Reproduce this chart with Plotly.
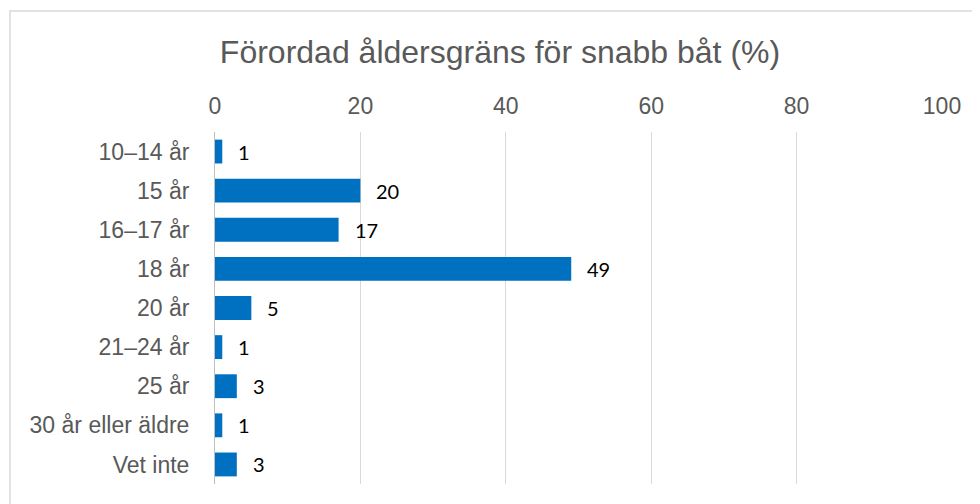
import plotly.graph_objects as go

categories = ["10–14 år", "15 år", "16–17 år", "18 år", "20 år", "21–24 år", "25 år", "30 år eller äldre", "Vet inte"]
values = [1, 20, 17, 49, 5, 1, 3, 1, 3]
tick_vals = [0, 20, 40, 60, 80, 100]
title_text = "Förordad åldersgräns för snabb båt (%)"

# page body has an 8px margin, so the figure is sized to fit the window
W, H = 972, 496
L, R, T, B = 207, 38, 124, 20
pw, ph = W - L - R, H - T - B

fig = go.Figure()
fig.add_trace(go.Bar(
    y=categories, x=values, orientation="h",
    marker=dict(color="#0070C0", line=dict(width=0)),
    hoverinfo="x+y",
))

for c, v in zip(categories, values):
    fig.add_annotation(x=v, y=c, text=str(v), showarrow=False, xanchor="left",
                       xshift=14, font=dict(family="Lato, Carlito, Liberation Sans", size=20, color="#000000"))

fig.add_shape(type="rect", xref="paper", yref="paper",
              x0=(2 - L) / pw, x1=(1000 - L) / pw, y0=-0.2, y1=(H - B - 3) / ph,
              line=dict(color="#d9d9d9", width=1.5), fillcolor="rgba(0,0,0,0)", layer="below")

fig.update_layout(
    width=W, height=H,
    margin=dict(l=L, r=R, t=T, b=B),
    paper_bgcolor="white", plot_bgcolor="white",
    bargap=0.39,
    showlegend=False,
    title=dict(text=title_text, x=492 / W, xanchor="center", xref="container",
               y=1 - 44 / H, yanchor="middle", yref="container",
               font=dict(family="Liberation Sans, Arial", size=32, color="#595959")),
    font=dict(family="Liberation Sans, Arial", size=23, color="#595959"),
)
fig.update_xaxes(range=[0, 100], side="top", tickvals=tick_vals, showgrid=True,
                 gridcolor="#d9d9d9", gridwidth=1, zeroline=False, showline=False,
                 ticks="", ticklabelstandoff=12, tickfont=dict(size=23, color="#595959"))
fig.update_yaxes(autorange="reversed", showline=True, linecolor="#bfbfbf", linewidth=1,
                 ticks="", ticklabelstandoff=20, tickfont=dict(size=23, color="#595959"))

fig.write_html("out.html")
